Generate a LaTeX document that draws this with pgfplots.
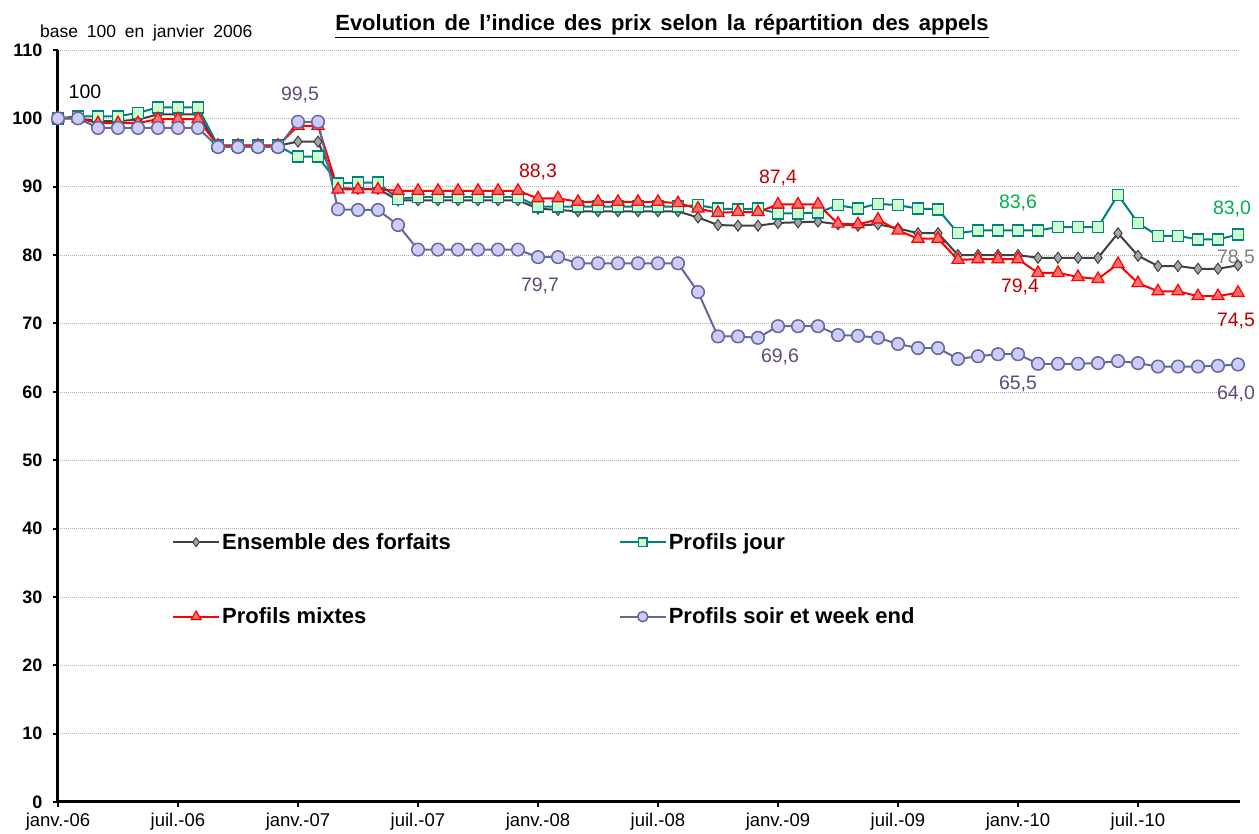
\documentclass[border=0pt]{standalone}
\usepackage{fontspec}
\setmainfont{Liberation Sans}
\usepackage{pgfplots}
\usepackage{pgfplotstable}
\pgfplotsset{compat=1.18}
\definecolor{cgrayline}{HTML}{404040}
\definecolor{cgrayfill}{HTML}{A6A6A6}
\definecolor{cteal}{HTML}{008080}
\definecolor{ctealfill}{HTML}{CCFFCC}
\definecolor{cred}{HTML}{FF0000}
\definecolor{credfill}{HTML}{FF6F6F}
\definecolor{cpurple}{HTML}{666699}
\definecolor{cpurplefill}{HTML}{CCCCFF}
\definecolor{lblred}{HTML}{C00000}
\definecolor{lblgreen}{HTML}{00B050}
\definecolor{lblpurple}{HTML}{604A7B}
\definecolor{lblgray}{HTML}{808080}

\pgfplotstableread{
m ens jour mixtes soir
0 100 100 100 100
1 100 100.3 100 100
2 99.6 100.3 99.3 98.6
3 99.6 100.3 99.3 98.6
4 99.8 100.8 99.3 98.6
5 100.6 101.6 99.9 98.6
6 100.6 101.6 99.9 98.6
7 100.6 101.6 99.9 98.6
8 96.0 96.0 96.0 95.8
9 96.0 96.0 96.0 95.8
10 96.0 96.0 96.0 95.8
11 96.0 96.0 96.0 95.8
12 96.6 94.4 98.9 99.5
13 96.6 94.4 98.9 99.5
14 89.8 90.5 89.6 86.7
15 89.7 90.6 89.6 86.6
16 89.7 90.6 89.6 86.6
17 88.0 88.2 89.4 84.4
18 88.0 88.5 89.4 80.8
19 88.0 88.5 89.4 80.8
20 88.0 88.5 89.4 80.8
21 88.0 88.5 89.4 80.8
22 88.0 88.5 89.4 80.8
23 88.0 88.5 89.4 80.8
24 86.8 87.1 88.3 79.7
25 86.6 87.1 88.3 79.7
26 86.4 87.1 87.8 78.8
27 86.4 87.1 87.8 78.8
28 86.4 87.1 87.8 78.8
29 86.4 87.1 87.8 78.8
30 86.4 87.1 87.8 78.8
31 86.4 87.1 87.6 78.8
32 85.5 87.3 86.8 74.6
33 84.4 86.8 86.2 68.1
34 84.3 86.7 86.3 68.1
35 84.3 86.8 86.3 67.9
36 84.7 86.1 87.4 69.6
37 84.8 86.1 87.4 69.6
38 84.9 86.2 87.4 69.6
39 84.5 87.3 84.6 68.3
40 84.3 86.8 84.5 68.2
41 84.5 87.5 85.2 67.9
42 83.9 87.3 83.6 67.0
43 83.2 86.8 82.4 66.4
44 83.2 86.7 82.4 66.4
45 80.0 83.2 79.3 64.8
46 80.0 83.6 79.4 65.2
47 80.0 83.6 79.4 65.5
48 80.0 83.6 79.4 65.5
49 79.6 83.6 77.4 64.1
50 79.6 84.1 77.4 64.1
51 79.6 84.1 76.8 64.1
52 79.6 84.1 76.5 64.2
53 83.2 88.8 78.7 64.5
54 79.9 84.7 75.9 64.2
55 78.4 82.8 74.7 63.7
56 78.4 82.8 74.7 63.7
57 78.0 82.3 74.0 63.7
58 78.0 82.3 74.0 63.8
59 78.5 83.0 74.5 64.0
}\datatable

\begin{document}
\begin{tikzpicture}[x=1pt,y=1pt]
\useasboundingbox (-58pt,-32pt) rectangle (1201pt,802pt);
\begin{axis}[
  at={(0pt,0pt)}, anchor=south west,
  scale only axis, width=1182pt, height=752pt,
  xmin=0, xmax=59.1, ymin=0, ymax=110,
  axis x line*=bottom, axis y line*=left,
  axis line style={line width=3pt,-},
  ytick={0,10,...,110},
  xtick={0,6,...,54},
  xticklabels={janv.-06,juil.-06,janv.-07,juil.-07,janv.-08,juil.-08,janv.-09,juil.-09,janv.-10,juil.-10},
  tick align=outside, major tick length=5pt,
  tick style={line width=2pt,black},
  ymajorgrids,
  grid style={gray!60,line width=0.6pt,dash pattern=on 1pt off 1pt},
  /pgf/number format/assume math mode=true,
  yticklabel style={font=\bfseries\fontsize{18}{18}\selectfont,xshift=-7pt},
  xticklabel style={font=\fontsize{18.5}{19}\selectfont,yshift=-2.5pt},
  clip=false,
  legend columns=2,
  legend cell align=left,
  legend style={at={(rel axis cs:0.0964,0.3600)},anchor=north west,draw=none,fill=none,
    inner sep=0pt,font=\bfseries\fontsize{22}{23}\selectfont,row sep=53pt,
    /tikz/every even column/.append style={column sep=166pt}},
  legend image code/.code={\draw[#1,mark repeat=2,mark phase=2,/tikz/every mark/.append style={scale=0.8}] plot coordinates {(0pt,0pt) (23pt,0pt) (46pt,0pt)};},
]
\addplot[color=cgrayline,line width=2pt,mark=diamond*,mark size=5.5pt,
  mark options={fill=cgrayfill,draw=cgrayline,line width=1pt}] table[x=m,y=ens] {\datatable};
\addplot[color=cteal,line width=2pt,mark=square*,mark size=5.5pt,
  mark options={fill=ctealfill,draw=cteal,line width=1.5pt}] table[x=m,y=jour] {\datatable};
\addplot[color=cred,line width=2pt,mark=triangle*,mark size=7pt,
  mark options={fill=credfill,draw=cred,line width=1.2pt}] table[x=m,y=mixtes] {\datatable};
\addplot[color=cpurple,line width=2pt,mark=*,mark size=6.3pt,
  mark options={fill=cpurplefill,draw=cpurple,line width=1.5pt}] table[x=m,y=soir] {\datatable};
\legend{Ensemble des forfaits,Profils jour,Profils mixtes,Profils soir et week end}

\begin{scope}[every node/.style={font=\fontsize{19.5}{20}\selectfont}]
\node[text=black] at (axis cs:1.35,103.9) {100};
\node[text=lblpurple] at (axis cs:12.1,103.4) {99,5};
\node[text=lblred] at (axis cs:24,92.2) {88,3};
\node[text=lblred] at (axis cs:36,91.3) {87,4};
\node[text=lblgreen] at (axis cs:48,87.6) {83,6};
\node[text=lblgreen] at (axis cs:58.7,86.7) {83,0};
\node[text=lblgray] at (axis cs:58.9,79.6) {78,5};
\node[text=lblred] at (axis cs:48.1,75.3) {79,4};
\node[text=lblred] at (axis cs:58.9,70.4) {74,5};
\node[text=lblpurple] at (axis cs:24.1,75.5) {79,7};
\node[text=lblpurple] at (axis cs:36.1,65.1) {69,6};
\node[text=lblpurple] at (axis cs:48,61.1) {65,5};
\node[text=lblpurple] at (axis cs:58.9,59.7) {64,0};
\end{scope}
\end{axis}
\node[font=\bfseries\fontsize{22}{22}\selectfont,anchor=base] at (604pt,771pt)
  {\spaceskip=0.41em\underline{Evolution de l'indice des prix selon la répartition des appels}};
\node[font=\fontsize{17.5}{18}\selectfont,anchor=base west,inner sep=0pt] at (-18pt,764pt)
  {\spaceskip=0.5em base 100 en janvier 2006};
\end{tikzpicture}
\end{document}
